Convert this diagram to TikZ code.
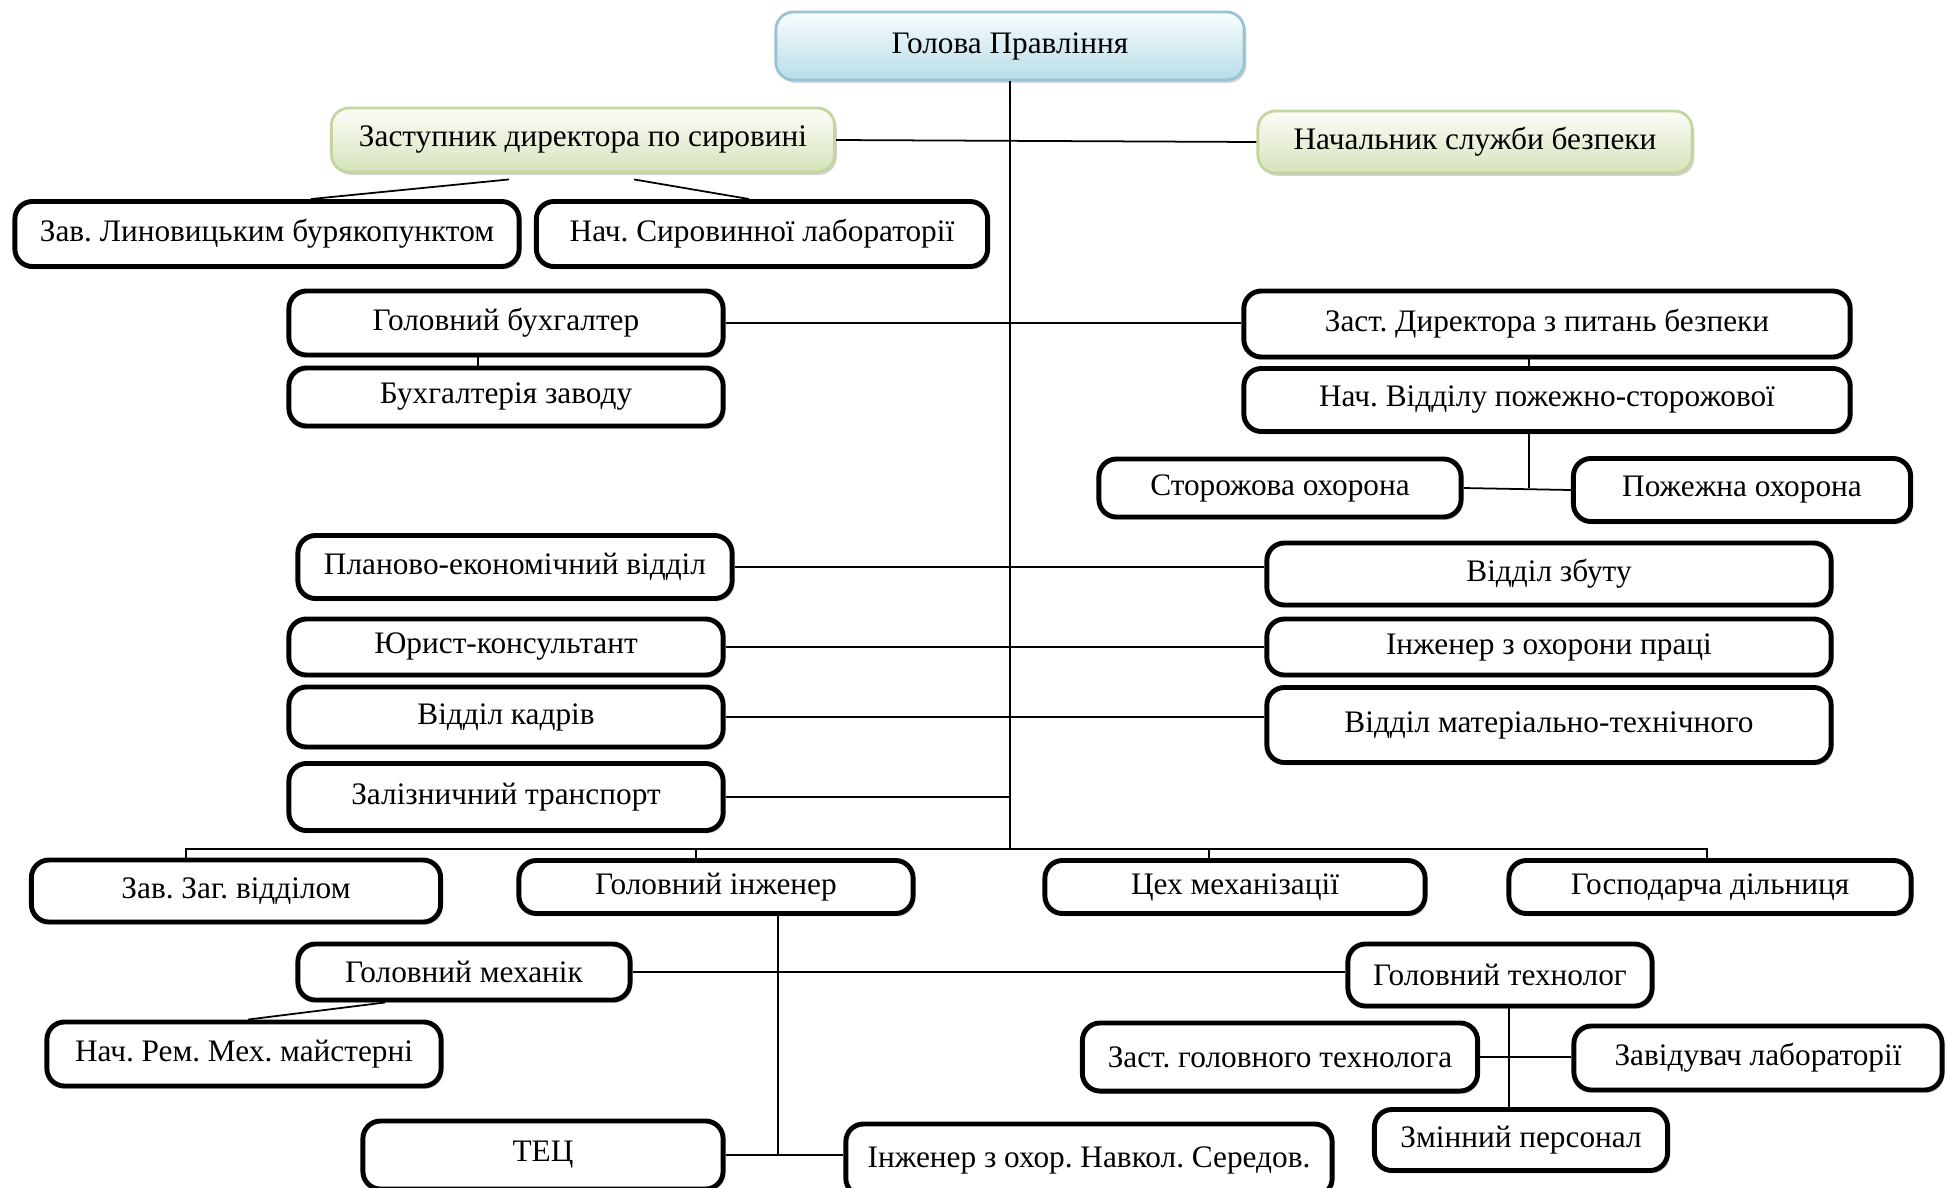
\documentclass[tikz,border=0pt]{standalone}
\usepackage{fontspec}
\setmainfont{Liberation Serif}
\usetikzlibrary{shadows}
\definecolor{headtop}{RGB}{250,253,254}
\definecolor{headbot}{RGB}{183,221,232}
\definecolor{headline}{RGB}{150,196,212}
\definecolor{deptop}{RGB}{252,253,248}
\definecolor{depbot}{RGB}{214,227,188}
\definecolor{depline}{RGB}{196,214,160}
\frenchspacing

\begin{document}
\begin{tikzpicture}[x=0.01cm, y=-0.01cm]
\tikzstyle{unit} = [rectangle, rounded corners=5pt, draw=black, line width=1.4pt, fill=white, text centered, inner sep=0pt, font=\fontsize{8.9}{11}\selectfont, drop shadow={shadow xshift=0.6pt, shadow yshift=-0.8pt, opacity=0.35}]
\tikzstyle{chief} = [unit, draw=headline, line width=0.8pt, top color=headtop, bottom color=headbot]
\tikzstyle{deputy} = [unit, draw=depline, line width=0.8pt, top color=deptop, bottom color=depbot]
\tikzstyle{link} = [line width=0.5pt, black]

\useasboundingbox (0,0) rectangle (1948,1187);

% top level
\node (head) [chief, minimum width=4.68cm, minimum height=0.68cm] at (1010,46) {Голова Правління};
\node (rawdep) [deputy, minimum width=5.03cm, minimum height=0.64cm] at (583,140) {Заступник директора по сировині};
\node (secchief) [deputy, minimum width=4.34cm, minimum height=0.62cm] at (1475,142) {Начальник служби безпеки};

\node (beetpt) [unit, minimum width=5.04cm, minimum height=0.65cm] at (267,234) {Зав. Линовицьким бурякопунктом};
\node (rawlab) [unit, minimum width=4.51cm, minimum height=0.65cm] at (762,234) {Нач. Сировинної лабораторії};

% left column
\node (chacc) [unit, minimum width=4.34cm, minimum height=0.64cm] at (506,323) {Головний бухгалтер};
\node (accdep) [unit, minimum width=4.34cm, minimum height=0.58cm] at (506,397) {Бухгалтерія заводу};
\node (plan) [unit, minimum width=4.34cm, minimum height=0.63cm] at (515,567) {Планово-економічний відділ};
\node (lawyer) [unit, minimum width=4.34cm, minimum height=0.56cm] at (506,647) {Юрист-консультант};
\node (hr) [unit, minimum width=4.34cm, minimum height=0.60cm] at (506,717) {Відділ кадрів};
\node (rail) [unit, minimum width=4.34cm, minimum height=0.67cm] at (506,797) {Залізничний транспорт};

% right column
\node (secdep) [unit, minimum width=6.06cm, minimum height=0.66cm] at (1547,324) {Заст. Директора з питань безпеки};
\node (fireguard) [unit, minimum width=6.06cm, minimum height=0.63cm] at (1547,400) {Нач. Відділу пожежно-сторожової};
\node (watch) [unit, minimum width=3.62cm, minimum height=0.58cm] at (1280,488) {Сторожова охорона};
\node (fire) [unit, minimum width=3.37cm, minimum height=0.63cm] at (1742,490) {Пожежна охорона};
\node (sales) [unit, minimum width=5.64cm, minimum height=0.62cm] at (1549,574) {Відділ збуту};
\node (safety) [unit, minimum width=5.64cm, minimum height=0.56cm] at (1549,647) {Інженер з охорони праці};
\node (supply) [unit, minimum width=5.64cm, minimum height=0.75cm] at (1549,725) {Відділ матеріально-технічного};

% bottom row
\node (office) [unit, minimum width=4.09cm, minimum height=0.62cm] at (236,891) {Зав. Заг. відділом};
\node (cheng) [unit, minimum width=3.94cm, minimum height=0.53cm] at (716,887) {Головний інженер};
\node (mech) [unit, minimum width=3.80cm, minimum height=0.53cm] at (1235,887) {Цех механізації};
\node (farm) [unit, minimum width=4.02cm, minimum height=0.53cm] at (1710,887) {Господарча дільниця};

\node (chmech) [unit, minimum width=3.32cm, minimum height=0.56cm] at (464,972) {Головний механік};
\node (repair) [unit, minimum width=3.94cm, minimum height=0.64cm] at (244,1054) {Нач. Рем. Мех. майстерні};
\node (tec) [unit, minimum width=3.60cm, minimum height=0.68cm] at (543,1155) {ТЕЦ};
\node (envir) [unit, minimum width=4.86cm, minimum height=0.72cm] at (1089,1160) {Інженер з охор. Навкол. Середов.};

\node (chtech) [unit, minimum width=3.04cm, minimum height=0.62cm] at (1500,975) {Головний технолог};
\node (dtech) [unit, minimum width=3.95cm, minimum height=0.68cm] at (1280,1057) {Заст. головного технолога};
\node (labhead) [unit, minimum width=3.68cm, minimum height=0.64cm] at (1758,1058) {Завідувач лабораторії};
\node (shift) [unit, minimum width=2.93cm, minimum height=0.61cm] at (1521,1140) {Змінний персонал};

\coordinate (bus) at (1010,849);

% trunk and branches
\draw [link] (head.south) -- (bus);
\draw [link] (rawdep.east) -- (secchief.west);
\draw [link] ([shift={(-74,6)}]rawdep.south) -- ([xshift=0.44cm]beetpt.north);
\draw [link] ([shift={(51,6)}]rawdep.south) -- ([xshift=-0.13cm]rawlab.north);
\draw [link] (chacc.east) -- (chacc.east -| secdep.west);
\draw [link] ([xshift=-0.28cm]chacc.south) -- ([xshift=-0.28cm]accdep.north);
\draw [link] ([xshift=-0.18cm]secdep.south) -- ([xshift=-0.18cm]fireguard.north);
\draw [link] ([xshift=-0.18cm]fireguard.south) -- ([xshift=-0.18cm]fireguard.south |- watch.east);
\draw [link] (watch.east) -- (fire.west);
\draw [link] (plan.east) -- (plan.east -| sales.west);
\draw [link] (lawyer.east) -- (safety.west);
\draw [link] (hr.east) -- (hr.east -| supply.west);
\draw [link] (rail.east) -- (rail.east -| bus);

% lower bus
\draw [link] ([xshift=-0.5cm]office.north) |- ([xshift=-0.03cm]farm.north |- bus) -- ([xshift=-0.03cm]farm.north);
\draw [link] ([xshift=-0.2cm]cheng.north) -- ([xshift=-0.2cm]cheng.north |- bus);
\draw [link] ([xshift=-0.26cm]mech.north) -- ([xshift=-0.26cm]mech.north |- bus);

% engineering
\draw [link] (chmech.east) -- (chmech.east -| chtech.west);
\draw [link] ([xshift=-0.79cm]chmech.south) -- ([xshift=0.04cm]repair.north);
\draw [link] ([xshift=0.62cm]cheng.south) |- (tec.east);
\draw [link] (tec.east) -- (tec.east -| envir.west);
\draw [link] ([xshift=0.09cm]chtech.south) -- ([xshift=0.09cm]chtech.south |- shift.north);
\draw [link] (dtech.east) -- (dtech.east -| labhead.west);
\end{tikzpicture}
\end{document}
